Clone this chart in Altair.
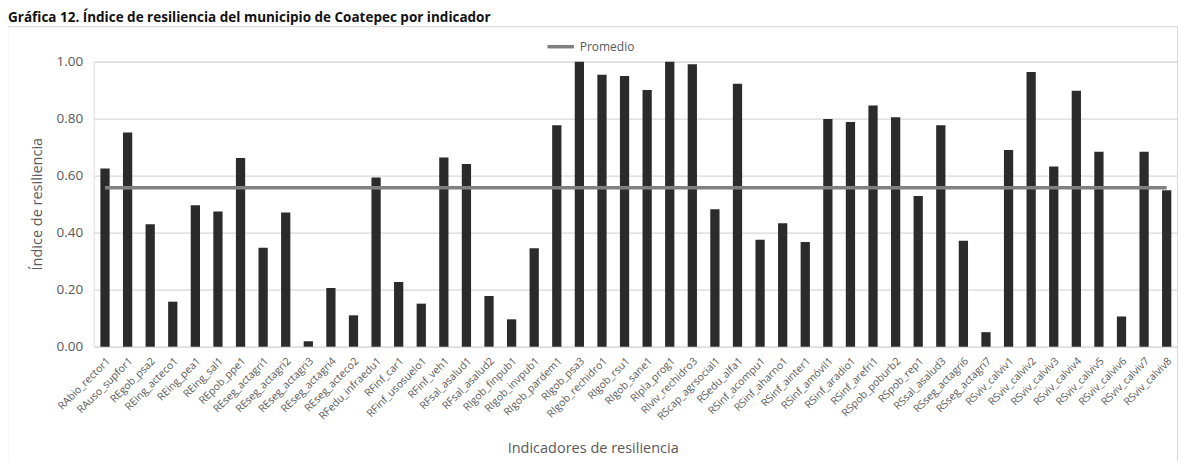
import altair as alt
import pandas as pd

titulo = "Gráfica 12. Índice de resiliencia del municipio de Coatepec por indicador"
eje_y_titulo = "Índice de resiliencia"
eje_x_titulo = "Indicadores de resiliencia"
serie = "Promedio"
y_ticks = [0.0, 0.2, 0.4, 0.6, 0.8, 1.0]

categorias = [
    "RAbio_rector1", "RAuso_supfor1", "REgob_psa2", "REing_acteco1", "REing_pea1",
    "REing_sal1", "REpob_ppe1", "REseg_actagri1", "REseg_actagri2", "REseg_actagri3",
    "REseg_actagri4", "REseg_acteco2", "RFedu_infraedu1", "RFinf_car1", "RFinf_usosuelo1",
    "RFinf_veh1", "RFsal_asalud1", "RFsal_asalud2", "RIgob_finpub1", "RIgob_invpub1",
    "RIgob_pardem1", "RIgob_psa3", "RIgob_rechidro1", "RIgob_rsu1", "RIgob_sane1",
    "RIpla_prog1", "RIviv_rechidro3", "RScap_agrsocial1", "RSedu_alfa1", "RSinf_acompu1",
    "RSinf_aharno1", "RSinf_ainter1", "RSinf_amóvil1", "RSinf_aradio1", "RSinf_arefri1",
    "RSpob_poburb2", "RSpob_rep1", "RSsal_asalud3", "RSseg_actagri6", "RSseg_actagri7",
    "RSviv_calviv1", "RSviv_calviv2", "RSviv_calviv3", "RSviv_calviv4", "RSviv_calviv5",
    "RSviv_calviv6", "RSviv_calviv7", "RSviv_calviv8",
]
valores = [
    0.625, 0.752, 0.430, 0.158, 0.496,
    0.474, 0.662, 0.347, 0.471, 0.019,
    0.206, 0.110, 0.594, 0.227, 0.151,
    0.664, 0.641, 0.178, 0.096, 0.345,
    0.777, 1.000, 0.954, 0.950, 0.901,
    1.000, 0.991, 0.482, 0.923, 0.375,
    0.433, 0.367, 0.799, 0.788, 0.846,
    0.805, 0.529, 0.777, 0.372, 0.051,
    0.690, 0.964, 0.632, 0.898, 0.684,
    0.106, 0.684, 0.549,
]
promedio = 0.558

W = 1084.3
H = 285
GRIS = "#595959"
FUENTE = "Open Sans"

df = pd.DataFrame({"indicador": categorias, "valor": valores})
df_prom = pd.DataFrame({
    "indicador": categorias,
    "valor": [promedio] * len(categorias),
    "serie": [serie] * len(categorias),
})

x_enc = alt.X(
    "indicador:N",
    sort=categorias,
    scale=alt.Scale(paddingInner=0.59, paddingOuter=0.295),
    axis=alt.Axis(
        title=eje_x_titulo, labelAngle=-45, labelFontSize=10.5, labelColor=GRIS,
        labelPadding=9, ticks=False, domain=False, grid=False,
        labelOverlap=False, labelLimit=0,
        titleFontSize=14.5, titleColor=GRIS, titleFontWeight="normal",
        titleX=499, titleY=102, titleBaseline="middle", titleAlign="center",
    ),
)
y_enc = alt.Y(
    "valor:Q",
    scale=alt.Scale(domain=[0, 1], nice=False),
    axis=alt.Axis(
        title=eje_y_titulo, values=y_ticks, format=".2f",
        labelFontSize=13.5, labelColor=GRIS, labelPadding=11,
        ticks=False, domain=False, grid=True, gridColor="#d9d9d9", gridWidth=1.3,
        titleFontSize=14.5, titleColor=GRIS, titleFontWeight="normal",
        titleX=-56.7, titleY=142, titleBaseline="middle", titleAlign="center",
    ),
)

marco = alt.Chart(pd.DataFrame({"k": [0]})).mark_rect(
    fillOpacity=0, stroke="#d4d4d4", strokeWidth=1
).encode(
    x=alt.value(-86), x2=alt.value(1084), y=alt.value(-35), y2=alt.value(420)
)

cabecera = alt.Chart(pd.DataFrame({"t": [titulo]})).mark_text(
    align="left", baseline="top", fontSize=13.5, fontWeight="bold", color="#111111"
).encode(text="t:N", x=alt.value(-85.7), y=alt.value(-50.7))

barras = alt.Chart(df).mark_bar(color="#2b2b2b").encode(x=x_enc, y=y_enc)

linea = alt.Chart(df_prom).mark_line(strokeWidth=3.5).encode(
    x=alt.X("indicador:N", sort=categorias),
    y=alt.Y("valor:Q"),
    color=alt.Color(
        "serie:N",
        scale=alt.Scale(range=["#808080"]),
        legend=alt.Legend(
            title=None, orient="none", legendX=452, legendY=-30,
            direction="horizontal", symbolType="stroke", symbolStrokeWidth=3.5,
            symbolSize=700, labelFontSize=12, labelColor=GRIS, labelFont=FUENTE,
        ),
    ),
)

chart = alt.layer(marco, cabecera, barras, linea).properties(
    width=W, height=H, autosize=alt.AutoSizeParams(type="none"),
    padding={"left": 85.7, "top": 53.7, "right": 0, "bottom": 114},
).configure_view(stroke=None).configure(font=FUENTE)

chart.save("out.html", embed_options={"renderer": "svg", "actions": False})
